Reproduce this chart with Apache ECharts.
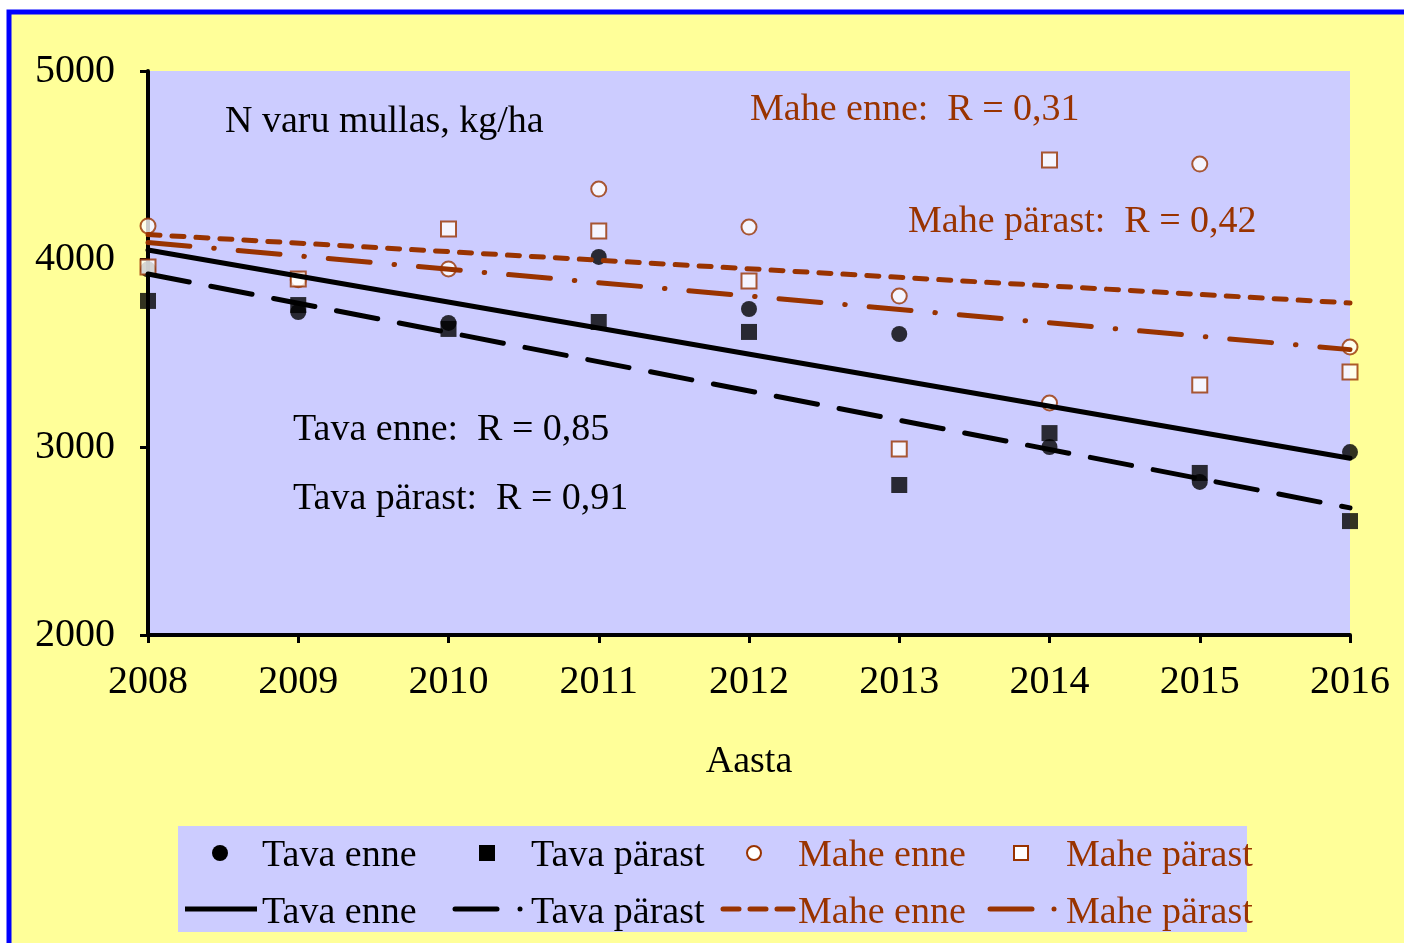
<!DOCTYPE html>
<html>
<head>
<meta charset="utf-8">
<script src="https://cdn.jsdelivr.net/npm/echarts@6/dist/echarts.min.js"></script>
<style>
  html, body { margin: 0; padding: 0; background: #fff; }
  #chart { width: 1404px; height: 943px; }
</style>
</head>
<body>
<div id="chart"></div>
<script>
const years = [2008, 2009, 2010, 2011, 2012, 2013, 2014, 2015, 2016]
const tavaEnne = [3945, 3718, 3660, 4011, 3734, 3601, 3000, 2814, 2973]
const tavaParast = [3777, 3755, 3628, 3665, 3612, 2798, 3074, 2862, 2606]
const maheEnne = [4176, 3890, 3947, 4372, 4170, 3803, 3234, 4505, 3532]
const maheParast = [3957, 3894, 4160, 4149, 3883, 2989, 4527, 3330, 3399]

// trend line end points (2008, 2016)
const trendYears = [2008, 2016]
const tavaEnneTrend = [4048, 2940]
const tavaParastTrend = [3920, 2676]
const maheEnneTrend = [4130, 3766]
const maheParastTrend = [4088, 3518]

const yTicks = [2000, 3000, 4000, 5000]

const RED = '#993300'
const FONT = 'Liberation Serif'

const pairs = (xs, ys) => xs.map((x, i) => [x, ys[i]])

const chart = echarts.init(document.getElementById('chart'))

const scatter = (name, data, symbol, filled, z) => ({
  name,
  type: 'scatter',
  data: pairs(years, data),
  symbol,
  symbolSize: filled ? 16 : 15,
  clip: false,
  z,
  itemStyle: filled
    ? { color: '#000' }
    : { color: '#fff', borderColor: RED, borderWidth: 2 },
})

const trend = (name, data, color, dash) => ({
  name,
  type: 'line',
  data: pairs(trendYears, data),
  showSymbol: false,
  clip: false,
  z: 8,
  lineStyle: { color, width: 5, type: dash, cap: 'round' },
})

const txt = (x, y, text, color, size) => ({
  type: 'text',
  x, y,
  style: { text, fill: color, font: `${size}px "${FONT}"`, textVerticalAlign: 'middle' },
})

const legendY1 = 854
const legendY2 = 911

chart.setOption({
  animation: false,
  backgroundColor: '#fff',
  grid: {
    left: 148, right: 54, top: 71, bottom: 308,
    show: true, backgroundColor: '#CCCCFF', borderWidth: 0,
  },
  xAxis: {
    type: 'value',
    min: 2008, max: 2016, interval: 1,
    name: 'Aasta',
    nameLocation: 'middle',
    nameGap: 108,
    nameTextStyle: { fontFamily: FONT, fontSize: 38, color: '#000' },
    splitLine: { show: false },
    axisLine: { onZero: false, lineStyle: { color: '#000', width: 4 } },
    axisTick: { show: true, inside: false, length: 8, lineStyle: { color: '#000', width: 3 } },
    axisLabel: {
      margin: 27, color: '#000', fontFamily: FONT, fontSize: 40,
      formatter: v => String(v),
    },
  },
  yAxis: {
    type: 'value',
    min: yTicks[0], max: yTicks[yTicks.length - 1], interval: 1000,
    splitLine: { show: false },
    axisLine: { show: true, lineStyle: { color: '#000', width: 4 } },
    axisTick: { show: true, inside: false, length: 8, lineStyle: { color: '#000', width: 3 } },
    axisLabel: {
      margin: 33, color: '#000', fontFamily: FONT, fontSize: 40,
      formatter: v => String(v),
    },
  },
  graphic: [
    {
      type: 'rect', z: -10, silent: true,
      shape: { x: 9, y: 12, width: 1420, height: 960 },
      style: { fill: '#FFFF99', stroke: '#0000FF', lineWidth: 5 },
    },
    txt(225, 122, 'N varu mullas, kg/ha', '#000', 38),
    txt(750, 110, 'Mahe enne:  R = 0,31', RED, 38),
    txt(908, 222, 'Mahe pärast:  R = 0,42', RED, 38),
    txt(293, 430, 'Tava enne:  R = 0,85', '#000', 38),
    txt(293, 499, 'Tava pärast:  R = 0,91', '#000', 38),
    // legend box
    {
      type: 'rect', silent: true,
      shape: { x: 178, y: 826, width: 1069, height: 106 },
      style: { fill: '#CCCCFF' },
    },
    { type: 'circle', shape: { cx: 220, cy: legendY1 - 1, r: 8 }, style: { fill: '#000' } },
    txt(262, legendY1 + 2, 'Tava enne', '#000', 38),
    { type: 'rect', shape: { x: 479, y: legendY1 - 9, width: 16, height: 16 }, style: { fill: '#000' } },
    txt(531, legendY1 + 2, 'Tava pärast', '#000', 38),
    { type: 'circle', shape: { cx: 754, cy: legendY1 - 1, r: 7 }, style: { fill: '#fff', stroke: RED, lineWidth: 2 } },
    txt(798, legendY1 + 2, 'Mahe enne', RED, 38),
    { type: 'rect', shape: { x: 1014, y: legendY1 - 8, width: 14, height: 14 }, style: { fill: '#fff', stroke: RED, lineWidth: 2 } },
    txt(1066, legendY1 + 2, 'Mahe pärast', RED, 38),
    { type: 'line', shape: { x1: 185, y1: legendY2 - 2, x2: 257, y2: legendY2 - 2 }, style: { stroke: '#000', lineWidth: 5 } },
    txt(262, legendY2 + 2, 'Tava enne', '#000', 38),
    { type: 'line', shape: { x1: 455, y1: legendY2 - 2, x2: 497, y2: legendY2 - 2 }, style: { stroke: '#000', lineWidth: 5, lineCap: 'round' } },
    { type: 'circle', shape: { cx: 520, cy: legendY2 - 2, r: 2.5 }, style: { fill: '#000' } },
    txt(531, legendY2 + 2, 'Tava pärast', '#000', 38),
    { type: 'line', shape: { x1: 723, y1: legendY2 - 2, x2: 793, y2: legendY2 - 2 }, style: { stroke: RED, lineWidth: 5, lineCap: 'round', lineDash: [16, 11] } },
    txt(798, legendY2 + 2, 'Mahe enne', RED, 38),
    { type: 'line', shape: { x1: 990, y1: legendY2 - 2, x2: 1032, y2: legendY2 - 2 }, style: { stroke: RED, lineWidth: 5, lineCap: 'round' } },
    { type: 'circle', shape: { cx: 1054, cy: legendY2 - 2, r: 2.5 }, style: { fill: RED } },
    txt(1066, legendY2 + 2, 'Mahe pärast', RED, 38),
  ],
  series: [
    scatter('Tava enne', tavaEnne, 'circle', true, 3),
    scatter('Tava pärast', tavaParast, 'rect', true, 4),
    scatter('Mahe enne', maheEnne, 'circle', false, 5),
    scatter('Mahe pärast', maheParast, 'rect', false, 6),
    trend('Tava enne trend', tavaEnneTrend, '#000', 'solid'),
    trend('Tava pärast trend', tavaParastTrend, '#000', [42, 22]),
    trend('Mahe enne trend', maheEnneTrend, RED, [12, 12]),
    trend('Mahe pärast trend', maheParastTrend, RED, [42, 24, 0.5, 24]),
  ],
})
</script>
</body>
</html>
